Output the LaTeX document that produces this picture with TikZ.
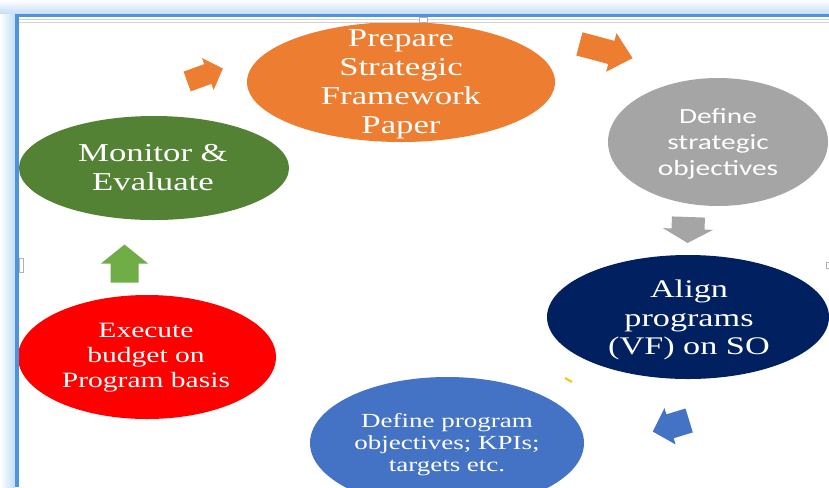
\documentclass[tikz,border=0pt]{standalone}
\usepackage{fontspec}
\setmainfont{Liberation Serif}[FakeStretch=1.35]
\newfontfamily\calibri{Carlito}[FakeStretch=1.35]
\usetikzlibrary{calc}

\definecolor{cyorange}{HTML}{ED7D31}
\definecolor{cygray}{HTML}{A5A5A5}
\definecolor{cynavy}{HTML}{002060}
\definecolor{cyblue}{HTML}{4472C4}
\definecolor{cyred}{HTML}{FF0000}
\definecolor{cygreen}{HTML}{548235}
\definecolor{cylime}{HTML}{70AD47}
\definecolor{cygold}{HTML}{FFC000}
\definecolor{framblue}{HTML}{4F93DC}
\definecolor{glowblue}{HTML}{C2DDF7}

% block arrow: centre, angle, length, head length, head width, shaft width, colour
\newcommand\blockarrow[7]{%
  \begin{scope}[shift={(#1)}, rotate=#2]
    \fill[#7] (-#3/2,-#6/2) -- (#3/2-#4,-#6/2) -- (#3/2-#4,-#5/2) -- (#3/2,0)
      -- (#3/2-#4,#5/2) -- (#3/2-#4,#6/2) -- (-#3/2,#6/2) -- cycle;
  \end{scope}}

\begin{document}
\begin{tikzpicture}[x=0.75pt, y=-0.75pt,
    stage/.style={text=white, align=center, inner sep=0pt},
    handle/.style={fill=white, draw=gray!60, line width=0.4pt}]
  \path[use as bounding box, clip] (0,0) rectangle (829,487);
  \fill[white] (0,0) rectangle (829,487);

  % stages of the cycle
  \fill[cyorange] (401,82) ellipse [x radius=154, y radius=60];
  \fill[cygray]   (718,142) ellipse [x radius=110, y radius=64];
  \fill[cynavy]   (688,317) ellipse [x radius=141, y radius=62];
  \fill[cyblue]   (447,443) ellipse [x radius=137, y radius=66];
  \fill[cyred]    (147,357) ellipse [x radius=129, y radius=62];
  \fill[cygreen]  (154,168) ellipse [x radius=135, y radius=52];

  \node[stage, font=\fontsize{19.3}{21.75}\selectfont] (prep) at (401,84)
    {Prepare\\Strategic\\Framework\\Paper};
  \node[stage, font=\calibri\fontsize{16.3}{19.5}\selectfont] (defso) at (718,144)
    {Define\\strategic\\objectives};
  \node[stage, font=\fontsize{19}{21.3}\selectfont] (align) at (689,320)
    {Align\\programs\\(VF) on SO};
  \node[stage, font=\fontsize{15}{16.5}\selectfont] (defprog) at (447,445)
    {Define program\\objectives; KPIs;\\targets etc.};
  \node[stage, font=\fontsize{16.4}{18.75}\selectfont] (exec) at (146,358)
    {Execute\\budget on\\Program basis};
  \node[stage, font=\fontsize{19.3}{21.75}\selectfont] (monitor) at (153,168)
    {Monitor \&\\Evaluate};

  % arrows between the stages
  \blockarrow{205,75}{20}{38}{16}{34}{21}{cyorange}
  \blockarrow{606,51}{-15}{55}{22}{40}{24}{cyorange}
  \blockarrow{688,230}{-92}{26}{14}{50}{33}{cygray}
  \blockarrow{671,426}{197}{38}{18}{38}{25}{cyblue}
  \blockarrow{124.5,263.5}{90}{38}{19}{47}{28}{cylime}

  \draw[cygold, line width=1.5pt] (565,378) -- (572,382);

  % frame with its glow
  \shade[top color=white, bottom color=glowblue] (0,0) rectangle (829,14);
  \shade[left color=white, right color=glowblue] (0,14) rectangle (15,487);
  \draw[gray!35, line width=0.75pt] (19,19) -- (829,19);
  \draw[gray!35, line width=0.75pt] (19,22) -- (829,22);
  \draw[framblue, line width=2.4pt] (17,487) -- (17,15.5) -- (829,15.5);

  \draw[handle] (419,17) rectangle (427,22);
  \draw[handle] (19,258) rectangle (23,272);
  \draw[handle] (826,262) rectangle (830,268);
\end{tikzpicture}
\end{document}
